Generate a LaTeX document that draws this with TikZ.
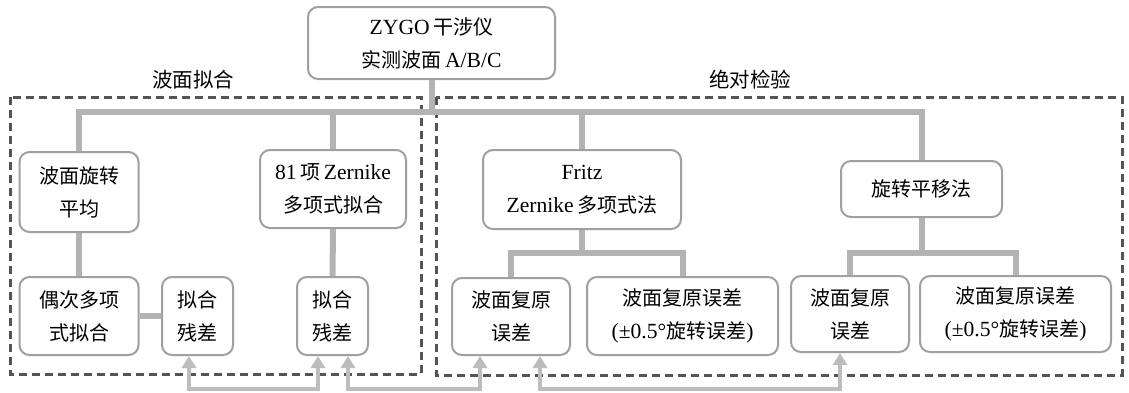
\documentclass[tikz,border=0pt]{standalone}
\usepackage{fontspec}
\setmainfont{Liberation Serif}[Scale=1.08]
\newfontfamily\cjk{Noto Sans CJK SC}
\usetikzlibrary{arrows.meta}
\definecolor{conncol}{HTML}{B3B3B3}
\definecolor{boxcol}{HTML}{A0A0A0}
\definecolor{arrcol}{HTML}{BDBDBD}
\definecolor{dashcol}{HTML}{555555}
\begin{document}
\begin{tikzpicture}[x=1pt,y=-1pt,
  box/.style={draw=boxcol,line width=2pt,rounded corners=10pt,fill=white,align=center,inner sep=0pt,font=\fontsize{20}{33}\selectfont},
  conn/.style={draw=conncol,line width=6pt},
  arr/.style={draw=arrcol,line width=4pt,{Triangle[width=14pt,length=12pt]}-{Triangle[width=14pt,length=12pt]}},
  grp/.style={draw=dashcol,line width=3pt,dash pattern=on 8pt off 5pt},
  lbl/.style={font=\fontsize{20.5}{24}\selectfont,inner sep=0pt}]
\useasboundingbox[fill=white] (0,0) rectangle (1129,392);

% group frames
\draw[grp] (10,97) rectangle (421,374);
\draw[grp] (436,97) rectangle (1122,375);
\node[lbl] (lfit) at (193,80) {\cjk 波面拟合};
\node[lbl] (labs) at (750,80) {\cjk 绝对检验};

% boxes
\node[box,minimum width=247pt,minimum height=72pt] (top) at (431.5,43) {ZYGO\,{\cjk 干涉仪}\\{\cjk 实测波面}\,A/B/C};
\node[box,minimum width=119pt,minimum height=80pt] (rot) at (79,192) {{\cjk 波面旋转}\\{\cjk 平均}};
\node[box,minimum width=146pt,minimum height=78pt] (z81) at (333,189) {81\,{\cjk 项}\,Zernike\\{\cjk 多项式拟合}};
\node[box,minimum width=119pt,minimum height=78pt] (even) at (79,316) {{\cjk 偶次多项}\\{\cjk 式拟合}};
\node[box,minimum width=71pt,minimum height=78pt] (res1) at (197.5,316) {{\cjk 拟合}\\{\cjk 残差}};
\node[box,minimum width=71pt,minimum height=78pt] (res2) at (332.5,316) {{\cjk 拟合}\\{\cjk 残差}};
\node[box,minimum width=198pt,minimum height=79pt] (fritz) at (582,189.5) {Fritz\\Zernike\,{\cjk 多项式法}};
\node[box,minimum width=161pt,minimum height=56pt] (rt) at (921.5,189) {\cjk 旋转平移法};
\node[box,minimum width=118pt,minimum height=77pt] (fA) at (511,316.5) {{\cjk 波面复原}\\{\cjk 误差}};
\node[box,minimum width=191pt,minimum height=78pt] (fB) at (682.5,316) {{\cjk 波面复原误差}\\(±0.5°{\cjk 旋转误差})};
\node[box,minimum width=118pt,minimum height=76pt] (rA) at (850,314) {{\cjk 波面复原}\\{\cjk 误差}};
\node[box,minimum width=191pt,minimum height=76pt] (rB) at (1015.5,314) {{\cjk 波面复原误差}\\(±0.5°{\cjk 旋转误差})};

% tree connectors
\coordinate (bar) at (0,112);
\coordinate (fbar) at (0,253);
\draw[conn] (top.south) -- (top.south |- bar);
\draw[conn] (rot.north) -- (rot.north |- bar) -- (rt.north |- bar) -- (rt.north);
\draw[conn] (z81.north) -- (z81.north |- bar);
\draw[conn] (fritz.north) -- (fritz.north |- bar);
\draw[conn] (rot.south) -- (even.north);
\draw[conn] (even.east) -- (res1.west);
\draw[conn] (z81.south) -- (res2.north);
\draw[conn] (fritz.south) -- (fritz.south |- fbar);
\draw[conn] (fA.north) -- (fA.north |- fbar) -- (fB.north |- fbar) -- (fB.north);
\draw[conn] (rt.south) -- (rt.south |- fbar);
\draw[conn] (rA.north) -- (rA.north |- fbar) -- (rB.north |- fbar) -- (rB.north);

% comparison arrows
\coordinate (abot) at (0,389);
\draw[arr] ([xshift=-8.5pt]res1.south) -- ([xshift=-8.5pt]res1.south |- abot) -- ([xshift=-14.5pt]res2.south |- abot) -- ([xshift=-14.5pt]res2.south);
\draw[arr] ([xshift=15.5pt]res2.south) -- ([xshift=15.5pt]res2.south |- abot) -- ([xshift=-31pt]fA.south |- abot) -- ([xshift=-31pt]fA.south);
\draw[arr] ([xshift=29pt]fA.south) -- ([xshift=29pt]fA.south |- abot) -- ([xshift=-10pt]rA.south |- abot) -- ([xshift=-10pt]rA.south);
\end{tikzpicture}
\end{document}
